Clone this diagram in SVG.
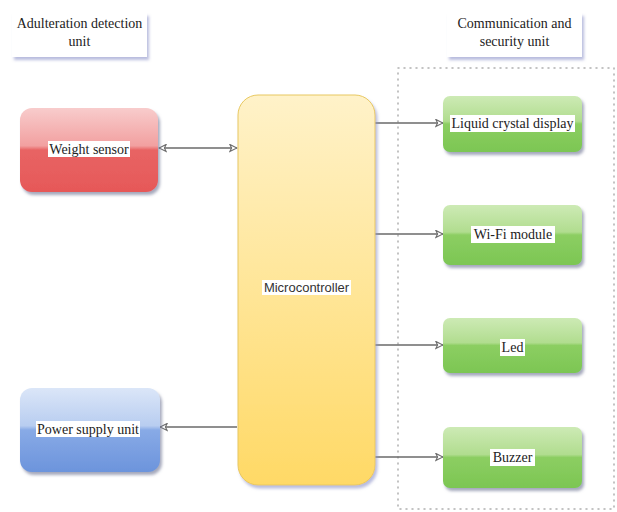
<svg xmlns="http://www.w3.org/2000/svg" width="617" height="512" viewBox="0 0 617 512">
<style>
.lbl{font-family:"Liberation Serif","Times New Roman",serif;font-size:14px;fill:#222;text-anchor:middle}
.mc{font-family:"Liberation Sans",Arial,sans-serif;font-size:13px;fill:#333;text-anchor:middle}
.conn{stroke:#6a6a6a;stroke-width:1.3;fill:none}
.hdr{fill:#fff;filter:url(#sh)}
.bg{fill:#fff}
</style>
<defs>
<filter id="sh" x="-20%" y="-20%" width="140%" height="150%">
<feDropShadow dx="2" dy="3" stdDeviation="1.5" flood-color="#8a90c8" flood-opacity="0.6"/>
</filter>
<filter id="sh2" x="-20%" y="-20%" width="140%" height="140%">
<feDropShadow dx="2" dy="3" stdDeviation="1.5" flood-color="#6a6f90" flood-opacity="0.6"/>
</filter>
<linearGradient id="gRed" x1="0" y1="0" x2="0" y2="1">
<stop offset="0" stop-color="#f8cccc"/><stop offset="0.45" stop-color="#f2a0a0"/><stop offset="0.5" stop-color="#e86464"/><stop offset="1" stop-color="#e65858"/>
</linearGradient>
<linearGradient id="gBlue" x1="0" y1="0" x2="0" y2="1">
<stop offset="0" stop-color="#dbe6f8"/><stop offset="0.45" stop-color="#b8cdf0"/><stop offset="0.5" stop-color="#88aae6"/><stop offset="1" stop-color="#6c94dc"/>
</linearGradient>
<linearGradient id="gGreen" x1="0" y1="0" x2="0" y2="1">
<stop offset="0" stop-color="#cdeab5"/><stop offset="0.45" stop-color="#b1dd8f"/><stop offset="0.5" stop-color="#8cce62"/><stop offset="1" stop-color="#7cc653"/>
</linearGradient>
<linearGradient id="gYel" x1="0" y1="0" x2="0" y2="1">
<stop offset="0" stop-color="#fff2c9"/><stop offset="1" stop-color="#ffd966"/>
</linearGradient>
<marker id="ah" viewBox="0 0 10 10" refX="9" refY="5" markerWidth="9" markerHeight="9" orient="auto-start-reverse" markerUnits="userSpaceOnUse">
<path d="M1,1 L9,5 L1,9 L3,5 Z" fill="#fff" stroke="#6a6a6a" stroke-width="1.2"/>
</marker>
</defs>

<g id="hdr-adulteration">
<rect class="hdr" x="12" y="13" width="135" height="44"/>
<text class="lbl" x="79.5" y="28">Adulteration detection</text>
<text class="lbl" x="79.5" y="46">unit</text>
</g>
<g id="hdr-communication">
<rect class="hdr" x="447" y="13" width="135" height="44"/>
<text class="lbl" x="514.5" y="28">Communication and</text>
<text class="lbl" x="514.5" y="46">security unit</text>
</g>

<rect id="group-box" x="398" y="68" width="216" height="441" fill="none" stroke="#b0b0b0" stroke-width="1.5" stroke-dasharray="1,5" stroke-linecap="round"/>

<g id="connectors">
<line class="conn" x1="159" y1="148" x2="237" y2="148" marker-start="url(#ah)" marker-end="url(#ah)"/>
<line class="conn" x1="375" y1="123" x2="443" y2="123" marker-end="url(#ah)"/>
<line class="conn" x1="375" y1="234" x2="443" y2="234" marker-end="url(#ah)"/>
<line class="conn" x1="375" y1="345" x2="443" y2="345" marker-end="url(#ah)"/>
<line class="conn" x1="375" y1="457" x2="443" y2="457" marker-end="url(#ah)"/>
<line class="conn" x1="237" y1="427" x2="160" y2="427" marker-end="url(#ah)"/>
</g>

<g id="weight-sensor">
<rect x="20" y="108" width="138" height="84" rx="12" fill="url(#gRed)" filter="url(#sh2)"/>
<rect class="bg" x="48" y="141" width="82" height="16"/>
<text class="lbl" x="89" y="154">Weight sensor</text>
</g>
<g id="power-supply">
<rect x="20" y="388" width="140" height="84" rx="12" fill="url(#gBlue)" filter="url(#sh2)"/>
<rect class="bg" x="36" y="421" width="104" height="16"/>
<text class="lbl" x="88" y="434">Power supply unit</text>
</g>
<g id="microcontroller">
<rect x="238" y="95" width="137" height="390" rx="20" fill="url(#gYel)" stroke="#e8c860" stroke-width="1" filter="url(#sh)"/>
<rect class="bg" x="262" y="280" width="89" height="15"/>
<text class="mc" x="306.5" y="292">Microcontroller</text>
</g>
<g id="lcd">
<rect x="443" y="96" width="139" height="56" rx="7" fill="url(#gGreen)" filter="url(#sh2)"/>
<rect class="bg" x="450" y="115" width="125" height="17"/>
<text class="lbl" x="512.5" y="128">Liquid crystal display</text>
</g>
<g id="wifi">
<rect x="443" y="205" width="139" height="60" rx="7" fill="url(#gGreen)" filter="url(#sh2)"/>
<rect class="bg" x="471" y="226" width="84" height="17"/>
<text class="lbl" x="513" y="239">Wi-Fi module</text>
</g>
<g id="led">
<rect x="443" y="318" width="139" height="55" rx="7" fill="url(#gGreen)" filter="url(#sh2)"/>
<rect class="bg" x="500" y="339" width="25" height="17"/>
<text class="lbl" x="512.5" y="352">Led</text>
</g>
<g id="buzzer">
<rect x="443" y="427" width="139" height="61" rx="7" fill="url(#gGreen)" filter="url(#sh2)"/>
<rect class="bg" x="490" y="449" width="45" height="17"/>
<text class="lbl" x="512.5" y="462">Buzzer</text>
</g>
</svg>
